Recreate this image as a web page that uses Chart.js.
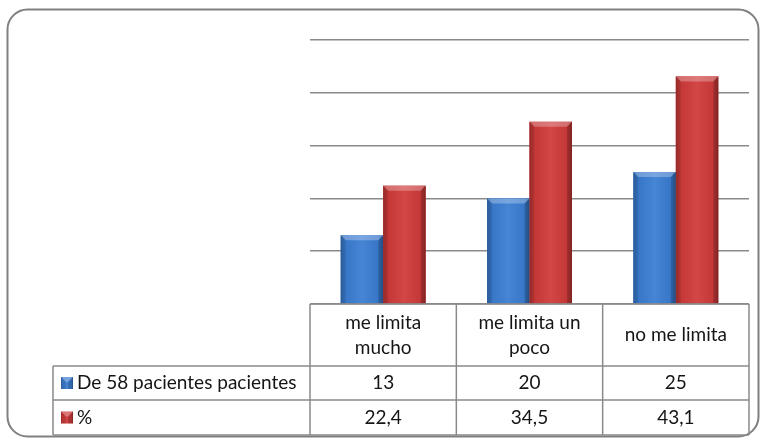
<!DOCTYPE html>
<html>
<head>
<meta charset="utf-8">
<script src="https://cdn.jsdelivr.net/npm/chart.js@4.4.1/dist/chart.umd.min.js"></script>
<style>
  html, body { margin: 0; padding: 0; background: #ffffff; }
  #wrap { width: 766px; height: 443px; }
</style>
</head>
<body>
<div id="wrap"><canvas id="c" width="766" height="443"></canvas></div>
<script>
// Categories (header row of the data table)
const categories = [["me limita", "mucho"], ["me limita un", "poco"], ["no me limita"]];
// Series
const seriesNames = ["De 58 pacientes pacientes", "%"];
const patients = [13, 20, 25];
const percent = [22.4, 34.5, 43.1];
// Formatted values shown in the data table
const patientLabels = ["13", "20", "25"];
const percentLabels = ["22,4", "34,5", "43,1"];

const BLUE = "#3b7dd2";
const RED = "#d03b3b";
const GRID = "#8a8a8a";
const FONT = "19px Lato, 'Open Sans', sans-serif";

// Rounded frame around the whole chart
const framePlugin = {
  id: "frame",
  beforeDraw(chart) {
    const ctx = chart.ctx;
    ctx.save();
    ctx.fillStyle = "#ffffff";
    ctx.fillRect(0, 0, chart.width, chart.height);
    ctx.beginPath();
    ctx.roundRect(7.5, 9.5, 751, 427, 20);
    ctx.strokeStyle = "#808080";
    ctx.lineWidth = 2;
    ctx.stroke();
    ctx.restore();
  }
};

// Bevel shading on each bar
function shadeBar(ctx, x0, top, x1, bottom, base) {
  const w = x1 - x0;
  const g = ctx.createLinearGradient(x0, 0, x1, 0);
  g.addColorStop(0, "rgba(0,0,0,0.22)");
  g.addColorStop(0.12, "rgba(0,0,0,0.05)");
  g.addColorStop(0.5, "rgba(255,255,255,0.06)");
  g.addColorStop(0.88, "rgba(0,0,0,0.05)");
  g.addColorStop(1, "rgba(0,0,0,0.28)");
  ctx.fillStyle = base;
  ctx.fillRect(x0, top, w, bottom - top);
  ctx.fillStyle = g;
  ctx.fillRect(x0, top, w, bottom - top);
  const b = Math.min(5, (bottom - top) / 2);
  // top bevel
  ctx.beginPath();
  ctx.moveTo(x0, top);
  ctx.lineTo(x1, top);
  ctx.lineTo(x1 - b, top + b);
  ctx.lineTo(x0 + b, top + b);
  ctx.closePath();
  ctx.fillStyle = "rgba(255,255,255,0.28)";
  ctx.fill();
  // left bevel
  ctx.beginPath();
  ctx.moveTo(x0, top);
  ctx.lineTo(x0 + b, top + b);
  ctx.lineTo(x0 + b, bottom);
  ctx.lineTo(x0, bottom);
  ctx.closePath();
  ctx.fillStyle = "rgba(0,0,0,0.08)";
  ctx.fill();
  // right bevel
  ctx.beginPath();
  ctx.moveTo(x1, top);
  ctx.lineTo(x1 - b, top + b);
  ctx.lineTo(x1 - b, bottom);
  ctx.lineTo(x1, bottom);
  ctx.closePath();
  ctx.fillStyle = "rgba(0,0,0,0.15)";
  ctx.fill();
}

const bevelPlugin = {
  id: "bevel",
  afterDatasetsDraw(chart) {
    const ctx = chart.ctx;
    ctx.save();
    chart.data.datasets.forEach((ds, di) => {
      const meta = chart.getDatasetMeta(di);
      meta.data.forEach((bar) => {
        const p = bar.getProps(["x", "y", "base", "width"], true);
        shadeBar(ctx, p.x - p.width / 2, p.y, p.x + p.width / 2, p.base, ds.backgroundColor);
      });
    });
    ctx.restore();
  }
};

// Data table under the plot, aligned with the category scale
const tablePlugin = {
  id: "dataTable",
  afterDraw(chart) {
    const ctx = chart.ctx;
    const xs = chart.scales.x;
    const area = chart.chartArea;
    const n = categories.length;
    const step = (area.right - area.left) / n;
    const top = area.bottom;
    const headerBottom = top + 62;
    const row1Bottom = headerBottom + 34;
    const row2Bottom = row1Bottom + 35;
    const labelLeft = 53;
    ctx.save();
    ctx.strokeStyle = GRID;
    ctx.lineWidth = 1.5;
    ctx.beginPath();
    // header cells
    ctx.moveTo(area.left, top); ctx.lineTo(area.right, top);
    for (let i = 0; i <= n; i++) {
      const x = area.left + i * step;
      ctx.moveTo(x, top); ctx.lineTo(x, row2Bottom);
    }
    // value rows
    [headerBottom, row1Bottom, row2Bottom].forEach((y) => {
      ctx.moveTo(labelLeft, y); ctx.lineTo(area.right, y);
    });
    ctx.moveTo(labelLeft, headerBottom); ctx.lineTo(labelLeft, row2Bottom);
    ctx.stroke();

    ctx.fillStyle = "#151515";
    ctx.font = FONT;
    ctx.textAlign = "center";
    ctx.textBaseline = "middle";
    categories.forEach((lines, i) => {
      const cx = xs.getPixelForValue(i);
      const mid = (top + headerBottom) / 2;
      const lh = 25;
      lines.forEach((t, k) => {
        ctx.fillText(t, cx, mid + (k - (lines.length - 1) / 2) * lh);
      });
      ctx.fillText(patientLabels[i], cx, (headerBottom + row1Bottom) / 2);
      ctx.fillText(percentLabels[i], cx, (row1Bottom + row2Bottom) / 2);
    });

    // row labels with legend keys
    ctx.textAlign = "left";
    const rows = [[headerBottom, row1Bottom], [row1Bottom, row2Bottom]];
    chart.data.datasets.forEach((ds, di) => {
      const cy = (rows[di][0] + rows[di][1]) / 2;
      shadeBar(ctx, 61, cy - 6, 73, cy + 6, ds.backgroundColor);
      ctx.fillStyle = "#151515";
      ctx.fillText(ds.label, 77, cy);
    });
    ctx.restore();
  }
};

new Chart(document.getElementById("c"), {
  type: "bar",
  data: {
    labels: categories.map((l) => l.join(" ")),
    datasets: [
      { label: seriesNames[0], data: patients, backgroundColor: BLUE },
      { label: seriesNames[1], data: percent, backgroundColor: RED }
    ]
  },
  options: {
    responsive: false,
    animation: false,
    devicePixelRatio: 1,
    layout: { padding: { left: 310, right: 17, top: 40, bottom: 139 } },
    datasets: { bar: { categoryPercentage: 0.58, barPercentage: 1.0 } },
    plugins: { legend: { display: false }, tooltip: { enabled: false } },
    scales: {
      x: { display: false },
      y: {
        min: 0,
        max: 50,
        ticks: { display: false, stepSize: 10 },
        border: { display: false },
        grid: { color: GRID, lineWidth: 1.5, drawTicks: false },
        afterFit: (s) => { s.width = 0; }
      }
    }
  },
  plugins: [framePlugin, bevelPlugin, tablePlugin]
});
</script>
</body>
</html>
